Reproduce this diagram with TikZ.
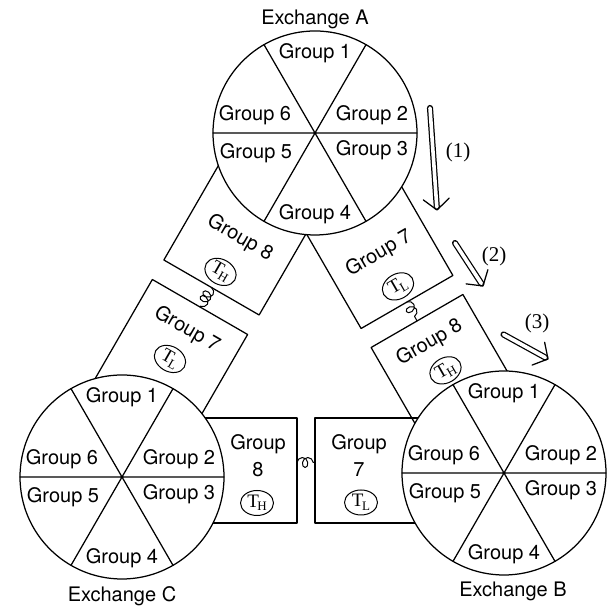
\documentclass[tikz,border=0pt]{standalone}
\usepackage{fontspec}
\setsansfont{TeX Gyre Heros}
\newfontfamily\labelfont{Liberation Serif}
\usetikzlibrary{positioning,calc,shapes.geometric,decorations.pathmorphing}

\newcommand{\toneH}{T\kern-1.5pt\raisebox{-3.5pt}{\fontsize{13}{13}\selectfont H}}
\newcommand{\toneL}{T\kern-1.5pt\raisebox{-3.5pt}{\fontsize{13}{13}\selectfont L}}
\newcommand{\flowarrow}[2]{%
  \draw[double, double distance=3.6pt] (#1) -- ($(#2)!3pt!(#1)$);
  \draw ($(#2)!11pt!(#1)!13pt!90:(#2)$) -- (#2) -- ($(#2)!11pt!(#1)!13pt!-90:(#2)$);}

\begin{document}
\begin{tikzpicture}[x=1pt, y=1pt, line width=1.25pt, line cap=round, line join=round]
  \tikzset{exch/.style={draw, circle, fill=white, minimum size=204pt, inner sep=0pt, outer sep=0pt},
    grp/.style={font=\sffamily\fontsize{20}{27}\selectfont, inner sep=1pt, align=center},
    trunk/.style={draw, rectangle, inner sep=0pt, outer sep=0pt},
    tone/.style={draw, ellipse, inner sep=0pt, minimum width=33pt, minimum height=25pt, line width=1pt, font=\labelfont\fontsize{19}{19}\selectfont},
    spring/.style={decorate, decoration={coil, aspect=.8, segment length=5.5pt, amplitude=5pt}, line width=1pt},
    flowlabel/.style={font=\labelfont\fontsize{21}{21}\selectfont, inner sep=0pt}}
  \useasboundingbox (0,0) rectangle (608,607);

  % trunk groups between A and C
  \node[trunk, rotate=-30, anchor=south, minimum width=110pt, minimum height=120pt] (AC8) at (211.5,319.5) {};
  \node[grp, rotate=-30] (AC8-txt) at ($(AC8.south)!57pt!(AC8.north)$) {Group 8};
  \node[tone, rotate=-30] (AC8-t) at ($(AC8.south)!18pt!(AC8.north)$) {\toneH};

  \node[trunk, rotate=-30, anchor=north, minimum width=110pt, minimum height=122pt] (CA7) at (200,300) {};
  \node[grp, rotate=-30] (CA7-txt) at ($(CA7.north)!26pt!(CA7.south)$) {Group 7};
  \node[tone, rotate=-30] (CA7-t) at ($(CA7.north)!60pt!(CA7.south)$) {\toneL};

  % trunk groups between A and B
  \node[trunk, rotate=30, anchor=south, minimum width=106pt, minimum height=120pt] (AB7) at (407,305) {};
  \node[grp, rotate=30] (AB7-txt) at ($(AB7.south)!56pt!(AB7.north)$) {Group 7};
  \node[tone, rotate=30] (AB7-t) at ($(AB7.south)!18pt!(AB7.north)$) {\toneL};

  \node[trunk, rotate=30, anchor=north, minimum width=106pt, minimum height=120pt] (BA8) at (417,286) {};
  \node[grp, rotate=30] (BA8-txt) at ($(BA8.north)!25pt!(BA8.south)$) {Group 8};
  \node[tone, rotate=30] (BA8-t) at ($(BA8.north)!57pt!(BA8.south)$) {\toneH};

  % trunk groups between C and B
  \node[trunk, anchor=east, minimum width=120pt, minimum height=105pt] (CB8) at (297,136.5) {};
  \node[grp] (CB8-txt) at ([xshift=-39pt, yshift=14.5pt]CB8.east) {Group\\8};
  \node[tone] (CB8-t) at ([xshift=-40pt, yshift=-32.5pt]CB8.east) {\toneH};

  \node[trunk, anchor=west, minimum width=120pt, minimum height=105pt] (BC7) at (315,136.5) {};
  \node[grp] (BC7-txt) at ([xshift=44pt, yshift=14.5pt]BC7.west) {Group\\7};
  \node[tone] (BC7-t) at ([xshift=46pt, yshift=-32pt]BC7.west) {\toneL};

  % exchanges
  \node[exch] (A) at (315,474) {};
  \node[exch] (B) at (504,134) {};
  \node[exch] (C) at (122,130) {};
  \foreach \ex in {A,B,C} {
    \draw (\ex.0) -- (\ex.180) (\ex.60) -- (\ex.240) (\ex.120) -- (\ex.300);
    \foreach \g/\dx/\dy in {1/0/80,2/57/18,3/57/-17,4/0/-81,5/-59/-20,6/-60/18}
      \node[grp] (\ex-\g) at ($(\ex)+(\dx,\dy)$) {Group \g};
  }
  \node[grp, above=1pt of A] (A-name) {Exchange A};
  \node[grp, below=5pt of B, xshift=9pt] (B-name) {Exchange B};
  \node[grp, below=6pt of C] (C-name) {Exchange C};

  % springs
  \draw[spring] (AC8.south) -- (CA7.north);
  \draw[spring] (AB7.south) -- (BA8.north);
  \draw[spring] ([yshift=8pt]CB8.east) -- ([yshift=8pt]BC7.west);

  % flow arrows
  \coordinate (f1a) at (430,499);
  \coordinate (f1b) at (437,397);
  \coordinate (f2a) at (455,364);
  \coordinate (f2b) at (483,321);
  \coordinate (f3a) at (503.5,272.5);
  \coordinate (f3b) at (548,248);
  \flowarrow{f1a}{f1b}
  \flowarrow{f2a}{f2b}
  \flowarrow{f3a}{f3b}
  \node[flowlabel] (f1-lab) at (458,455) {(1)};
  \node[flowlabel] (f2-lab) at (494,351) {(2)};
  \node[flowlabel] (f3-lab) at (537,284) {(3)};
\end{tikzpicture}
\end{document}
